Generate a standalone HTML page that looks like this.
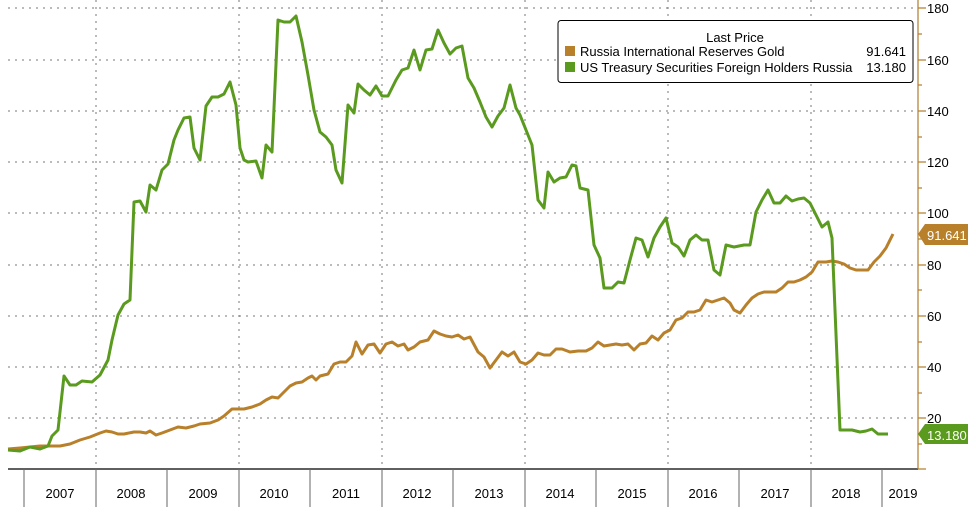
<!DOCTYPE html>
<html><head><meta charset="utf-8"><style>
body{margin:0;background:#fff;}
svg text{font-family:"Liberation Sans",sans-serif;}
</style></head><body>
<svg width="976" height="507" viewBox="0 0 976 507" xmlns="http://www.w3.org/2000/svg">
<rect width="976" height="507" fill="#fff"/>
<g stroke="#777" stroke-width="1" stroke-dasharray="2,5">
<line x1="8" y1="8" x2="918" y2="8"/><line x1="8" y1="60" x2="918" y2="60"/><line x1="8" y1="111" x2="918" y2="111"/>
<line x1="8" y1="162" x2="918" y2="162"/><line x1="8" y1="213" x2="918" y2="213"/><line x1="8" y1="265" x2="918" y2="265"/>
<line x1="8" y1="316" x2="918" y2="316"/><line x1="8" y1="367" x2="918" y2="367"/><line x1="8" y1="418" x2="918" y2="418"/>
<line x1="96" y1="0" x2="96" y2="469"/><line x1="239" y1="0" x2="239" y2="469"/><line x1="382" y1="0" x2="382" y2="469"/>
<line x1="525" y1="0" x2="525" y2="469"/><line x1="668" y1="0" x2="668" y2="469"/><line x1="811" y1="0" x2="811" y2="469"/>
</g>
<line x1="8" y1="469" x2="918" y2="469" stroke="#000" stroke-width="1.2"/>
<g stroke="#666" stroke-width="1">
<line x1="24" y1="469" x2="24" y2="507"/><line x1="96" y1="469" x2="96" y2="507"/><line x1="167" y1="469" x2="167" y2="507"/>
<line x1="239" y1="469" x2="239" y2="507"/><line x1="310" y1="469" x2="310" y2="507"/><line x1="382" y1="469" x2="382" y2="507"/>
<line x1="453" y1="469" x2="453" y2="507"/><line x1="525" y1="469" x2="525" y2="507"/><line x1="596" y1="469" x2="596" y2="507"/>
<line x1="668" y1="469" x2="668" y2="507"/><line x1="739" y1="469" x2="739" y2="507"/><line x1="811" y1="469" x2="811" y2="507"/>
<line x1="882" y1="469" x2="882" y2="507"/>
</g>
<g font-size="13" fill="#000" text-anchor="middle">
<text x="60" y="498">2007</text><text x="131" y="498">2008</text><text x="203" y="498">2009</text><text x="274" y="498">2010</text>
<text x="346" y="498">2011</text><text x="417" y="498">2012</text><text x="489" y="498">2013</text><text x="560" y="498">2014</text>
<text x="632" y="498">2015</text><text x="703" y="498">2016</text><text x="775" y="498">2017</text><text x="846" y="498">2018</text>
<text x="903" y="498">2019</text>
</g>
<line x1="918" y1="0" x2="918" y2="469" stroke="#b07c2a" stroke-width="1.2"/>
<g stroke="#b07c2a" stroke-width="1.2">
<line x1="918" y1="8" x2="926" y2="8"/><line x1="918" y1="34" x2="922" y2="34"/><line x1="918" y1="60" x2="926" y2="60"/><line x1="918" y1="85" x2="922" y2="85"/>
<line x1="918" y1="111" x2="926" y2="111"/><line x1="918" y1="137" x2="922" y2="137"/><line x1="918" y1="162" x2="926" y2="162"/><line x1="918" y1="188" x2="922" y2="188"/>
<line x1="918" y1="213" x2="926" y2="213"/><line x1="918" y1="239" x2="922" y2="239"/><line x1="918" y1="265" x2="926" y2="265"/><line x1="918" y1="290" x2="922" y2="290"/>
<line x1="918" y1="316" x2="926" y2="316"/><line x1="918" y1="342" x2="922" y2="342"/><line x1="918" y1="367" x2="926" y2="367"/><line x1="918" y1="393" x2="922" y2="393"/>
<line x1="918" y1="418" x2="926" y2="418"/><line x1="918" y1="444" x2="922" y2="444"/><line x1="918" y1="469" x2="926" y2="469"/>
</g>
<g font-size="13" fill="#000">
<text x="927" y="13">180</text><text x="927" y="65">160</text><text x="927" y="116">140</text><text x="927" y="167">120</text>
<text x="927" y="218">100</text><text x="927" y="270">80</text><text x="927" y="321">60</text><text x="927" y="372">40</text><text x="927" y="423">20</text>
</g>
<polyline fill="none" stroke="#b8802a" stroke-width="3" stroke-linejoin="round" points="8,449 20,448 40,446 60,446 70,444 80,440 90,437 100,433 106,431 112,432 118,434 124,434 134,432 140,432 146,433 150,431 156,435 162,433 170,430 178,427 186,428 194,426 200,424 210,423 218,420 224,416 232,409 244,409 252,407 260,404 266,400 272,397 278,398 284,392 290,386 296,383 302,382 308,378 312,376 316,380 320,376 328,374 334,364 340,362 346,362 352,356 356,342 362,354 368,345 374,344 380,353 386,344 392,342 398,346 404,344 408,350 414,347 420,342 428,340 434,331 440,334 446,336 452,337 458,335 464,339 470,337 478,352 484,357 490,368 496,360 502,352 508,356 514,352 520,362 526,364 532,360 538,353 544,355 550,355 556,349 562,349 570,352 578,351 586,351 592,348 598,342 604,346 610,345 616,344 622,345 628,344 634,350 640,344 646,343 652,336 658,340 664,333 670,330 676,320 682,318 688,312 694,312 700,310 706,300 712,302 718,300 724,298 730,303 734,310 740,313 746,305 752,298 758,294 764,292 770,292 776,292 782,288 788,282 794,282 800,280 806,277 812,272 818,262 826,262 832,261 838,262 844,264 850,268 856,270 862,270 868,270 874,262 880,256 886,248 893,234"/>
<polyline fill="none" stroke="#5a9a1e" stroke-width="3" stroke-linejoin="round" points="8,450 20,451 30,447 40,449 48,446 52,436 58,430 64,376 70,385 76,385 82,381 92,382 100,375 108,360 112,340 118,315 124,304 130,300 134,202 140,201 146,212 150,185 156,190 162,170 168,164 174,140 178,130 184,118 190,117 194,148 200,160 206,106 212,97 218,97 224,94 230,82 236,105 240,148 244,160 248,162 256,161 262,178 266,145 272,152 278,20 284,22 290,22 296,16 302,42 308,75 314,110 320,132 326,137 332,145 336,170 342,183 348,105 354,113 358,84 364,90 370,95 376,86 382,96 388,96 396,80 402,70 408,68 414,50 420,70 426,50 432,49 438,30 444,43 450,54 456,48 462,46 468,78 474,88 480,102 486,117 492,127 498,116 504,108 510,85 516,108 520,115 526,130 532,145 538,200 544,208 548,172 554,182 560,178 566,177 572,165 576,166 580,188 588,190 594,245 600,258 604,288 612,288 618,282 624,283 630,260 636,238 642,240 648,257 654,238 660,227 666,218 672,243 678,247 684,256 690,240 696,235 702,240 708,240 714,270 720,275 726,245 734,247 744,245 750,245 756,212 762,200 768,190 774,203 780,203 786,196 792,201 798,199 804,198 810,203 816,215 822,227 828,222 832,238 840,430 846,430 852,430 860,432 866,431 872,429 878,434 888,434"/>
<polygon points="918,234 925,224 968,224 968,245 925,245" fill="#b8802a"/>
<text x="927" y="240" font-size="13" fill="#fff">91.641</text>
<polygon points="918,434 925,424 968,424 968,444 925,444" fill="#5a9a1e"/>
<text x="927" y="440" font-size="13" fill="#fff">13.180</text>
<rect x="558" y="20.5" width="355" height="62" rx="3" fill="#fff" stroke="#000" stroke-width="1"/>
<text x="735" y="42" font-size="13" text-anchor="middle">Last Price</text>
<rect x="565" y="46" width="10" height="10" fill="#b8802a"/>
<text x="580" y="56" font-size="13">Russia International Reserves Gold</text>
<text x="906" y="56" font-size="13" text-anchor="end">91.641</text>
<rect x="565" y="62" width="10" height="10" fill="#5a9a1e"/>
<text x="580" y="72" font-size="13">US Treasury Securities Foreign Holders Russia</text>
<text x="906" y="72" font-size="13" text-anchor="end">13.180</text>
</svg>
</body></html>
